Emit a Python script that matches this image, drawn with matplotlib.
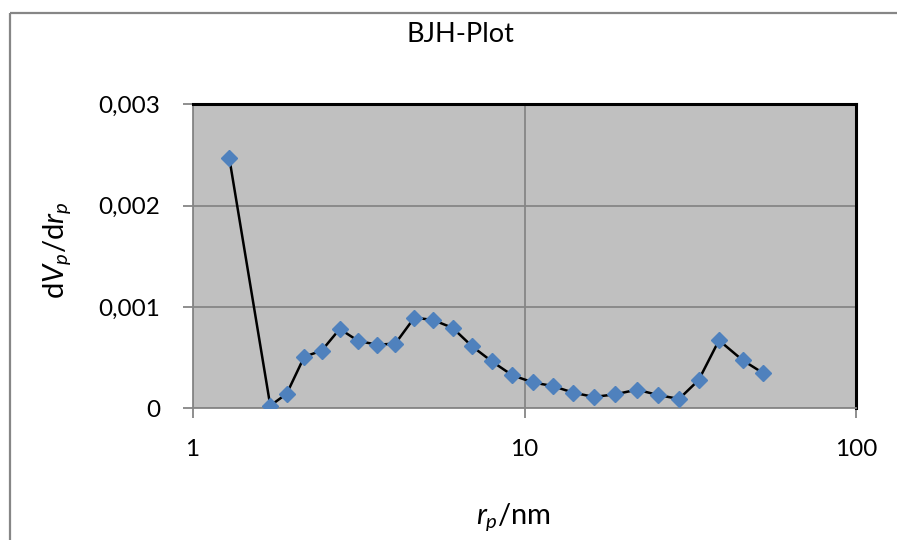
import matplotlib
matplotlib.use("Agg")
import matplotlib.pyplot as plt
from matplotlib.lines import Line2D

# Data
r_p = [1.291, 1.715, 1.922, 2.171, 2.450, 2.776, 3.158, 3.595, 4.081, 4.657,
       5.302, 6.077, 6.949, 7.964, 9.19, 10.61, 12.16, 14.03, 16.19, 18.77,
       21.82, 25.24, 29.20, 33.47, 38.53, 45.41, 52.29]
dvdr = [0.002468, 0.000026, 0.000144, 0.000509, 0.000569, 0.000783, 0.000664,
        0.000628, 0.000638, 0.000894, 0.000872, 0.000793, 0.000612, 0.000464,
        0.000326, 0.000255, 0.000220, 0.000154, 0.000112, 0.000138, 0.000184,
        0.000131, 0.000092, 0.000279, 0.000671, 0.000474, 0.000348]
y_ticks = [0, 0.001, 0.002, 0.003]
y_tick_labels = ["0", "0,001", "0,002", "0,003"]
x_ticks = [1, 10, 100]
x_tick_labels = ["1", "10", "100"]
title = "BJH-Plot"

plt.rcParams['font.family'] = ['Lato', 'DejaVu Sans']
plt.rcParams['mathtext.fontset'] = 'custom'
plt.rcParams['mathtext.rm'] = 'Lato'
plt.rcParams['mathtext.it'] = 'Lato:italic'

W, H = 898, 541
fig = plt.figure(figsize=(W / 100, H / 100), dpi=100)
fig.patch.set_facecolor('white')
fig.patch.set_edgecolor('none')
fig.patch.set_linewidth(0)

# outer chart frame (only top and left edges are visible)
fx, fy = 9.5 / W, 1 - 13 / H
fig.lines.append(Line2D([fx, 0.999], [fy, fy], transform=fig.transFigure,
                        color='#868686', lw=1.6, solid_capstyle='butt'))
fig.lines.append(Line2D([fx, fx], [0.001, fy], transform=fig.transFigure,
                        color='#868686', lw=1.6, solid_capstyle='butt'))

left, right, top, bottom = 192.5, 856.5, 104.3, 408.3
ax = fig.add_axes([left / W, 1 - bottom / H, (right - left) / W, (bottom - top) / H])
ax.set_facecolor('#C0C0C0')

ax.plot(r_p, dvdr, color='black', lw=1.8, marker='D', ms=7.8,
        markerfacecolor='#4F81BD', markeredgecolor='#4F81BD', zorder=3)

ax.set_xscale('log')
ax.set_xlim(1, 100)
ax.set_ylim(0, 0.003)
ax.set_xticks(x_ticks)
ax.set_xticklabels(x_tick_labels)
ax.xaxis.set_minor_locator(matplotlib.ticker.NullLocator())
ax.set_yticks(y_ticks)
ax.set_yticklabels(y_tick_labels)

ax.grid(True, which='major', color='#868686', lw=1.3, zorder=0)
ax.set_axisbelow(True)

for s in ['left', 'bottom']:
    ax.spines[s].set_color('#868686')
    ax.spines[s].set_linewidth(1.3)
for s in ['top', 'right']:
    ax.spines[s].set_color('black')
    ax.spines[s].set_linewidth(2.2)

ax.tick_params(axis='both', length=7, width=1.3, color='#868686',
               labelsize=17.5, labelcolor='black')
ax.tick_params(axis='y', pad=16)
ax.tick_params(axis='x', pad=15)

fig.text(460 / W, 1 - 34 / H, title, ha='center', va='center', fontsize=19.5)

ax.set_xlabel(r'$r_p$/nm', fontsize=21)
ax.xaxis.set_label_coords((513 - left) / (right - left), -0.305)
ax.set_ylabel(r'd$V_p$/d$r_p$', fontsize=21)
ax.yaxis.set_label_coords((73 - left) / (right - left), 0.52)

fig.savefig('out.png', dpi=100, facecolor='white', edgecolor='none')
